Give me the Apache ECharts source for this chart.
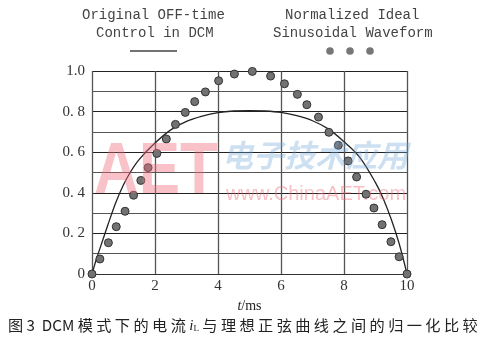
<!DOCTYPE html>
<html>
<head>
<meta charset="utf-8">
<script src="https://cdn.jsdelivr.net/npm/echarts@6/dist/echarts.min.js"></script>
<style>
html,body{margin:0;padding:0;background:#fff;}
#chart{width:494px;height:346px;}
</style>
</head>
<body>
<div id="chart"></div>
<script>
// 原始 OFF-time 控制下的电流曲线 (t/ms, 归一化值)
var curveT = [0, 0.14, 0.25, 0.5, 0.75, 1, 1.25, 1.5, 2, 2.5, 3, 3.5, 4, 4.5, 5, 5.5, 6, 6.5, 7, 7.5, 8, 8.5, 9, 9.25, 9.5, 9.75, 10];
var curveI = [0, 0.074, 0.125, 0.24, 0.35, 0.44, 0.51, 0.565, 0.645, 0.71, 0.752, 0.778, 0.795, 0.803, 0.805, 0.803, 0.796, 0.78, 0.755, 0.715, 0.652, 0.575, 0.45, 0.37, 0.27, 0.15, 0];
// 理想正弦波形 (点)
var sinT = [0, 0.25, 0.52, 0.77, 1.05, 1.32, 1.55, 1.78, 2.06, 2.36, 2.65, 2.96, 3.26, 3.6, 4.02, 4.52, 5.09, 5.67, 6.11, 6.52, 6.82, 7.19, 7.52, 7.82, 8.13, 8.4, 8.7, 8.95, 9.21, 9.49, 9.75, 10];
var sinI = [0, 0.074, 0.154, 0.233, 0.309, 0.388, 0.461, 0.524, 0.594, 0.665, 0.737, 0.796, 0.849, 0.897, 0.952, 0.985, 0.998, 0.975, 0.937, 0.885, 0.834, 0.773, 0.698, 0.634, 0.557, 0.478, 0.393, 0.325, 0.243, 0.159, 0.085, 0];
// 坐标刻度
var xTicks = ['0', '2', '4', '6', '8', '10'];
var yTicks = ['0', '0. 2', '0. 4', '0. 6', '0. 8', '1.0'];

var curveData = [];
for (var i = 0; i < curveT.length; i++) {
	curveData.push([curveT[i], curveI[i]]);
}
var sinData = [];
for (var j = 0; j < sinT.length; j++) {
	sinData.push([sinT[j], sinI[j]]);
}

var myChart = echarts.init(document.getElementById('chart'));
var mono = '"Liberation Mono", "DejaVu Sans Mono", monospace';
var serif = '"Liberation Serif", "DejaVu Serif", serif';
var option = {
	animation: false,
	backgroundColor: '#fff',
	grid: {left: 92, right: 87, top: 71, bottom: 72},
	xAxis: {
		type: 'value',
		min: 0, max: 10, interval: 2,
		axisLine: {show: true, lineStyle: {color: '#333', width: 1}},
		axisTick: {show: false},
		splitLine: {show: true, lineStyle: {color: '#555', width: 1.3}},
		axisLabel: {
			margin: 5,
			color: '#333', fontFamily: serif, fontSize: 15,
			formatter: function (v) { return xTicks[Math.round(v / 2)]; }
		},
		name: '{i|t}/ms',
		nameLocation: 'middle',
		nameGap: 20,
		nameTextStyle: {
			color: '#222', fontFamily: serif, fontSize: 14,
			rich: {i: {fontStyle: 'italic', fontFamily: serif, fontSize: 14, color: '#222'}}
		}
	},
	yAxis: {
		type: 'value',
		min: 0, max: 1, interval: 0.2,
		axisLine: {show: false},
		axisTick: {show: false},
		splitLine: {show: true, lineStyle: {color: '#222', width: 1}},
		minorTick: {show: false, splitNumber: 2},
		minorSplitLine: {show: true, lineStyle: {color: '#555', width: 1}},
		axisLabel: {
			margin: 7,
			color: '#333', fontFamily: serif, fontSize: 15,
			formatter: function (v) { return yTicks[Math.round(v * 5)]; }
		}
	},
	series: [
		{
			name: 'Original OFF-time Control in DCM',
			type: 'line',
			data: curveData,
			smooth: 0.35,
			showSymbol: false,
			lineStyle: {color: '#222', width: 1.3},
			z: 3
		},
		{
			name: 'Normalized Ideal Sinusoidal Waveform',
			type: 'scatter',
			data: sinData,
			symbolSize: 8,
			itemStyle: {color: '#727272', borderColor: '#333', borderWidth: 1, opacity: 1},
			z: 4
		}
	],
	graphic: [
		// 图例
		{type: 'text', left: 82, top: 8, style: {text: 'Original OFF-time', font: '14px ' + mono, fill: '#444'}},
		{type: 'text', left: 96, top: 26, style: {text: 'Control in DCM', font: '14px ' + mono, fill: '#444'}},
		{type: 'line', shape: {x1: 130, y1: 51, x2: 177, y2: 51}, style: {stroke: '#444', lineWidth: 1.5}},
		{type: 'text', left: 285, top: 8, style: {text: 'Normalized Ideal', font: '14px ' + mono, fill: '#444'}},
		{type: 'text', left: 273, top: 26, style: {text: 'Sinusoidal Waveform', font: '14px ' + mono, fill: '#444'}},
		{type: 'circle', shape: {cx: 330, cy: 51, r: 3.8}, style: {fill: '#777'}},
		{type: 'circle', shape: {cx: 350, cy: 51, r: 3.8}, style: {fill: '#777'}},
		{type: 'circle', shape: {cx: 370, cy: 51, r: 3.8}, style: {fill: '#777'}},
		// 水印
		{type: 'text', left: 94, top: 137, z: 100, scaleX: 0.86,
			style: {text: 'AET', font: 'bold 72px "Liberation Sans", Arial, sans-serif', fill: 'rgba(240,110,125,0.42)'}},
		{type: 'text', left: 222, top: 140, z: 100,
			style: {text: '电子技术应用', font: 'italic bold 31px "Noto Sans CJK SC", sans-serif', fill: 'rgba(110,165,215,0.35)'}},
		{type: 'text', left: 226, top: 184, z: 100,
			style: {text: 'www.ChinaAET.com', font: '20px "Liberation Sans", Arial, sans-serif', fill: 'rgba(240,110,125,0.45)'}},
		// 图注
		{type: 'text', left: 8, top: 318,
			style: {
				text: '图 3  DCM 模 式 下 的 电 流 {i|i}{s|L} 与 理 想 正 弦 曲 线 之 间 的 归 一 化 比 较',
				font: '15.2px "Noto Sans CJK SC", sans-serif', fill: '#222',
				rich: {
					i: {fontStyle: 'italic', fontFamily: serif, fontSize: 15, fill: '#222'},
					s: {fontFamily: serif, fontSize: 9, fill: '#222', padding: [6, 0, 0, 0]}
				}
			}}
	]
};
myChart.setOption(option);
</script>
</body>
</html>
